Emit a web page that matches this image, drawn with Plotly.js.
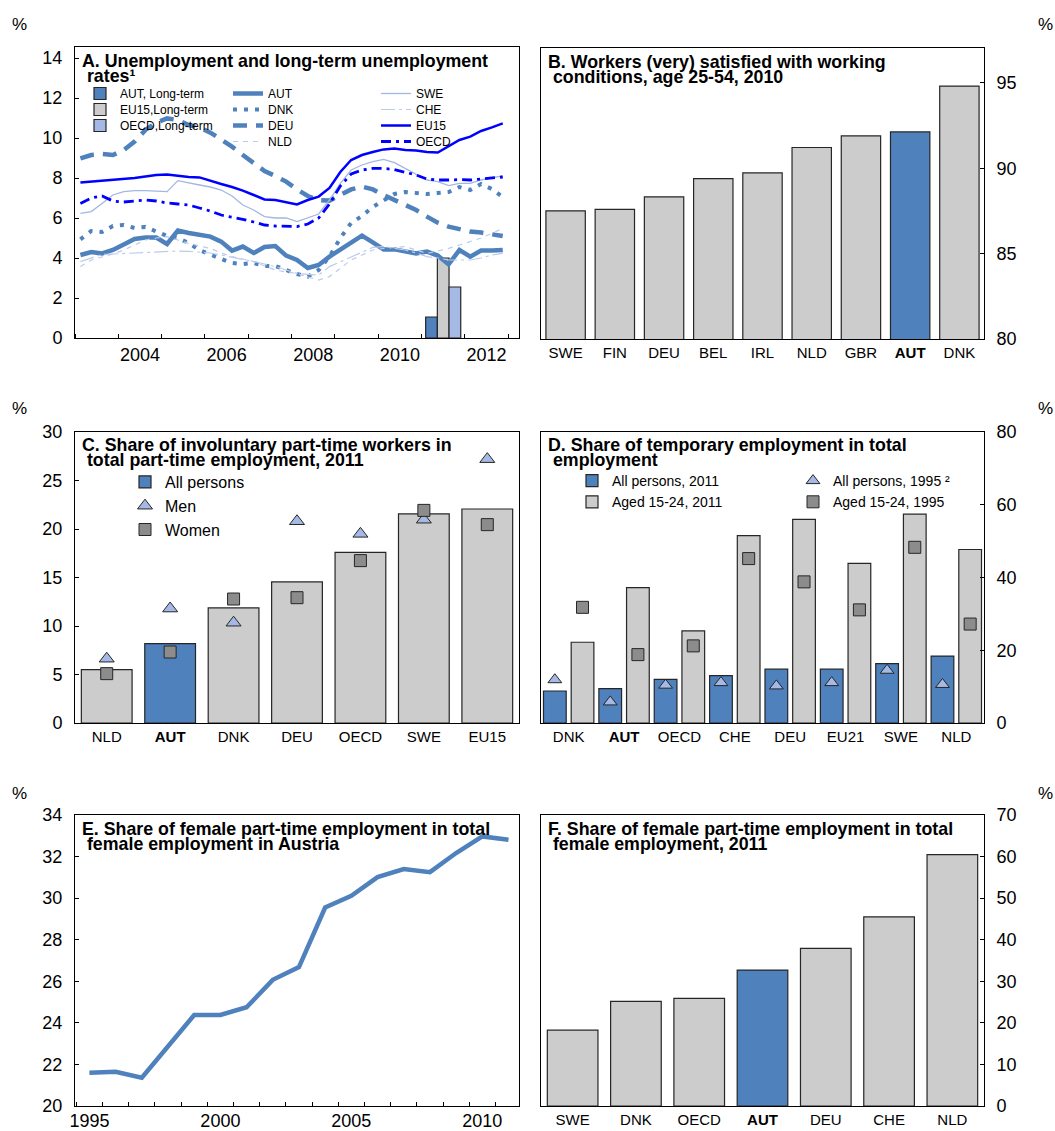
<!DOCTYPE html>
<html><head><meta charset="utf-8">
<script src="https://cdn.plot.ly/plotly-3.0.1.min.js"></script>
<style>html,body{margin:0;padding:0;background:#fff}#chart{width:1055px;height:1131px}</style>
</head><body><div id="chart"></div>
<script>
// ---------- Panel A: unemployment rates, quarterly 2003Q1-2012Q4 ----------
const aFirstYear = 2003, aLastYear = 2012;
const autU  = [4.15,4.3,4.23,4.4,4.68,4.95,5.03,5.02,4.7,5.37,5.25,5.18,5.07,4.82,4.37,4.57,4.25,4.55,4.6,4.12,3.9,3.5,3.65,4.07,4.43,4.78,5.12,4.78,4.43,4.43,4.35,4.23,4.32,4.12,3.68,4.4,4.07,4.37,4.37,4.4];
const dnkU  = [4.93,5.35,5.3,5.6,5.65,5.5,5.55,5.35,5.1,5.0,4.75,4.4,4.15,3.95,3.75,3.7,3.75,3.6,3.6,3.4,3.2,3.07,3.4,4.07,5.0,5.75,6.1,6.55,6.9,7.2,7.3,7.25,7.2,7.25,7.3,7.55,7.4,7.7,7.45,7.05];
const deuU  = [8.98,9.15,9.2,9.15,9.4,9.82,10.4,10.77,10.98,10.9,10.65,10.53,10.27,9.93,9.57,9.15,8.73,8.35,8.1,7.82,7.43,7.1,6.9,6.87,7.15,7.43,7.57,7.43,7.15,6.9,6.62,6.4,6.07,5.77,5.57,5.43,5.32,5.27,5.2,5.1];
const nldU  = [3.57,3.9,4.05,4.2,4.4,4.65,4.9,5.0,5.07,4.9,4.73,4.6,4.48,4.25,4.07,3.95,3.82,3.6,3.4,3.3,3.23,3.05,2.9,3.07,3.5,3.9,4.15,4.4,4.48,4.52,4.57,4.4,4.23,4.35,4.48,4.65,4.82,5.0,5.23,5.48];
const sweU  = [6.23,6.32,6.73,7.15,7.32,7.37,7.37,7.35,7.32,7.87,7.75,7.65,7.55,7.4,7.1,6.65,6.4,6.07,6.0,6.0,5.82,6.0,6.2,6.9,7.73,8.4,8.65,8.82,8.93,8.77,8.48,8.15,7.9,7.82,7.62,7.73,7.73,7.9,8.02,8.1];
const cheU  = [3.82,4.0,4.18,4.2,4.23,4.25,4.27,4.3,4.35,4.35,4.33,4.3,4.25,4.15,4.05,3.95,3.82,3.7,3.57,3.4,3.23,3.18,3.15,3.57,3.8,4.07,4.3,4.53,4.57,4.5,4.4,4.25,4.07,4.0,3.9,3.9,3.9,4.0,4.15,4.23];
const eu15U = [7.78,7.82,7.88,7.9,7.93,8.0,8.07,8.15,8.18,8.12,8.05,8.03,7.85,7.7,7.55,7.37,7.15,6.93,6.9,6.8,6.68,6.9,7.07,7.5,8.3,8.9,9.15,9.3,9.43,9.47,9.4,9.38,9.3,9.27,9.6,9.9,10.07,10.35,10.53,10.73];
const oecdU = [6.73,7.0,7.1,6.85,6.8,6.85,6.9,6.85,6.75,6.7,6.65,6.5,6.35,6.15,6.05,5.93,5.8,5.65,5.6,5.57,5.57,5.7,6.0,6.7,7.6,8.2,8.4,8.48,8.48,8.42,8.3,8.15,7.95,7.9,7.9,7.92,7.9,7.95,8.0,8.05];
const ltNames  = ['AUT, Long-term','EU15,Long-term','OECD,Long-term'];
const ltPeriod = [2011.23, 2011.5, 2011.77];
const ltValues = [1.05, 4.0, 2.55];
const aTickYears = [2004, 2006, 2008, 2010, 2012];

// ---------- Panel B ----------
const bCats = ['SWE','FIN','DEU','BEL','IRL','NLD','GBR','AUT','DNK'];
const bVals = [87.51, 87.59, 88.33, 89.40, 89.73, 91.22, 91.90, 92.13, 94.82];

// ---------- Panel C ----------
const cCats  = ['NLD','AUT','DNK','DEU','OECD','SWE','EU15'];
const cAll   = [5.5, 8.18, 11.86, 14.54, 17.6, 21.55, 22.06];
const cMen   = [6.63, 11.8, 10.34, 20.8, 19.5, 20.96, 27.2];
const cWomen = [5.09, 7.32, 12.78, 12.92, 16.74, 21.92, 20.45];

// ---------- Panel D ----------
const dCats      = ['DNK','AUT','OECD','CHE','DEU','EU21','SWE','NLD'];
const dAll2011   = [8.8, 9.45, 12.0, 13.0, 14.8, 14.8, 16.3, 18.4];
const dYouth2011 = [22.2, 37.2, 25.3, 51.5, 56.0, 43.9, 57.4, 47.7];
const dAll1995   = [11.9, 5.8, 10.4, 11.1, 10.2, 11.1, 14.5, 10.6];
const dYouth1995 = [31.8, 18.8, 21.2, 45.2, 38.8, 31.1, 48.3, 27.2];

// ---------- Panel E ----------
const eYears = [1995,1996,1997,1998,1999,2000,2001,2002,2003,2004,2005,2006,2007,2008,2009,2010,2011];
const eVals  = [21.6,21.65,21.36,22.86,24.38,24.38,24.75,26.07,26.68,29.55,30.11,31.01,31.4,31.25,32.17,32.97,32.81];
const eTickYears = [1995, 2000, 2005, 2010];

// ---------- Panel F ----------
const fCats = ['SWE','DNK','OECD','AUT','DEU','CHE','NLD'];
const fVals = [18.25, 25.16, 25.88, 32.7, 37.9, 45.5, 60.45];

// ---------- styling ----------
const FONT = 'Liberation Sans, Arial, Helvetica, sans-serif';
const BLUE = '#4F81BD', GREY = '#CCCCCC', LIGHT = '#A6B9E4', SQ = '#8C8C8C', EDGE = '#262626';
const W = 1055, H = 1131;
const px = v => v / W, py = v => 1 - v / H;
const hi = 'AUT';
const boldAut = c => c === hi ? '<b>' + c + '</b>' : c;
const barColors = cats => cats.map(c => c === hi ? BLUE : GREY);

const base = {showline: true, mirror: true, linecolor: '#000', linewidth: 1, showgrid: false,
  zeroline: false, fixedrange: true, tickcolor: '#000'};
const numFont = {family: FONT, size: 18, color: '#000'};
const catFont = {family: FONT, size: 15, color: '#000'};
const yAx = (anchor, domain, range, dtick, side) => Object.assign({}, base, {
  anchor: anchor, domain: domain, range: range, dtick: dtick, tick0: 0, side: side,
  ticks: 'inside', ticklen: 4, tickfont: numFont, ticklabelstandoff: 8});
const xCat = (anchor, domain, cats) => Object.assign({}, base, {
  anchor: anchor, domain: domain, type: 'category', categoryorder: 'array', categoryarray: cats,
  tickmode: 'array', tickvals: cats, ticktext: cats.map(boldAut), ticks: '', tickfont: catFont});

const domL = [px(75), px(519)], domR = [px(541), px(984)];
const row1 = [py(338), py(47)], row2 = [py(723), py(432)], row3 = [py(1106), py(815)];
const dIdx = dCats.map((c, i) => i);

const layout = {
  width: W, height: H, margin: {l: 0, r: 0, t: 0, b: 0},
  paper_bgcolor: '#fff', plot_bgcolor: '#fff', font: {family: FONT, color: '#000'},
  barmode: 'overlay', bargap: 0.2, hovermode: false, showlegend: true,
  xaxis: Object.assign({}, base, {anchor: 'y', domain: domL, range: [2003, 2013.25],
    tickmode: 'array', tickvals: aTickYears.map(y => y + 0.5), ticktext: aTickYears.map(String),
    ticks: '', tickfont: numFont,
    minor: {tickmode: 'linear', tick0: 2003, dtick: 1, ticks: 'inside', ticklen: 4, tickcolor: '#000', showgrid: false}}),
  yaxis: yAx('x', row1, [0, 14.55], 2, 'left'),
  xaxis2: xCat('y2', domR, bCats),
  yaxis2: yAx('x2', [py(339), py(48)], [80, 97.05], 5, 'right'),
  xaxis3: xCat('y3', domL, cCats),
  yaxis3: yAx('x3', row2, [0, 30], 5, 'left'),
  xaxis4: Object.assign({}, base, {anchor: 'y4', domain: domR, range: [-0.5, dCats.length - 0.5],
    tickmode: 'array', tickvals: dIdx, ticktext: dCats.map(boldAut), ticks: '', tickfont: catFont}),
  yaxis4: yAx('x4', row2, [0, 80], 20, 'right'),
  xaxis5: Object.assign({}, base, {anchor: 'y5', domain: domL, range: [1994.45, 2011.4],
    tickmode: 'array', tickvals: eTickYears, ticktext: eTickYears.map(String), ticks: '', tickfont: numFont,
    ticklabelstandoff: -2,
    minor: {tickmode: 'linear', tick0: 1994.5, dtick: 1, ticks: 'inside', ticklen: 4, tickcolor: '#000', showgrid: false}}),
  yaxis5: yAx('x5', row3, [20, 34], 2, 'left'),
  xaxis6: xCat('y6', domR, fCats),
  yaxis6: yAx('x6', row3, [0, 70], 10, 'right'),
  annotations: []
};

// legends: one key per box
let legendCount = 0;
function newLegend(xPx, topPx, size) {
  legendCount++;
  const key = legendCount === 1 ? 'legend' : 'legend' + legendCount;
  layout[key] = {x: px(xPx), y: py(topPx), xanchor: 'left', yanchor: 'top',
    bgcolor: 'rgba(0,0,0,0)', font: {family: FONT, size: size, color: '#000'}};
  return key;
}
// Panel A legend grid: columns (left px) and row centres
const aLegCols = [80, 228, 376], aLegRows = [93, 109, 125, 141];
const aLeg = (col, row) => newLegend(aLegCols[col], aLegRows[row] - 14, 12);

const quarterX = [];
for (let y = aFirstYear; y <= aLastYear; y++) for (let q = 1; q <= 4; q++) quarterX.push(y + (q - 0.5) / 4);

const traces = [];
// Panel A bars
const ltColors = [BLUE, GREY, LIGHT];
ltNames.forEach((n, i) => traces.push({
  type: 'bar', name: n, x: [ltPeriod[i]], y: [ltValues[i]], width: 0.27,
  marker: {color: ltColors[i], line: {color: EDGE, width: 1.2}},
  xaxis: 'x', yaxis: 'y', legend: aLeg(0, i)
}));
const lineSpecs = [
  ['AUT', autU, {color: BLUE, width: 4.5}, 1, 0],
  ['DNK', dnkU, {color: BLUE, width: 4, dash: '4px,7px'}, 1, 1],
  ['DEU', deuU, {color: BLUE, width: 4.5, dash: '14px,9px'}, 1, 2],
  ['NLD', nldU, {color: '#BCCBEB', width: 1.2, dash: '5px,5px'}, 1, 3],
  ['SWE', sweU, {color: '#A3B7E3', width: 1.3}, 2, 0],
  ['CHE', cheU, {color: '#BCCBEB', width: 1.2, dash: '14px,4px,3px,4px'}, 2, 1],
  ['EU15', eu15U, {color: '#0000FF', width: 2.5}, 2, 2],
  ['OECD', oecdU, {color: '#0000FF', width: 2.8, dash: '10px,5px,3px,5px'}, 2, 3]
];
lineSpecs.forEach(([n, v, line, col, row]) => traces.push({
  type: 'scatter', mode: 'lines', name: n, x: quarterX, y: v, line: line,
  xaxis: 'x', yaxis: 'y', legend: aLeg(col, row)
}));

// Panel B
traces.push({type: 'bar', x: bCats, y: bVals, showlegend: false,
  marker: {color: barColors(bCats), line: {color: EDGE, width: 1.2}}, xaxis: 'x2', yaxis: 'y2'});

// Panel C
const legC = newLegend(125, 465, 16);
const cOther = cCats.map((c, i) => c === hi ? null : i).filter(i => i !== null);
const cHi = cCats.indexOf(hi);
traces.push({type: 'bar', name: 'All persons', x: [cCats[cHi]], y: [cAll[cHi]],
  marker: {color: BLUE, line: {color: EDGE, width: 1.2}}, xaxis: 'x3', yaxis: 'y3', legend: legC});
traces.push({type: 'bar', name: 'All persons (others)', showlegend: false,
  x: cOther.map(i => cCats[i]), y: cOther.map(i => cAll[i]),
  marker: {color: GREY, line: {color: EDGE, width: 1.2}}, xaxis: 'x3', yaxis: 'y3'});
traces.push({type: 'scatter', mode: 'markers', name: 'Men', x: cCats, y: cMen,
  marker: {symbol: 'triangle-up', size: 13, color: LIGHT, line: {color: EDGE, width: 1}},
  xaxis: 'x3', yaxis: 'y3', legend: legC});
traces.push({type: 'scatter', mode: 'markers', name: 'Women', x: cCats, y: cWomen,
  marker: {symbol: 'square', size: 12, color: SQ, line: {color: EDGE, width: 1}},
  xaxis: 'x3', yaxis: 'y3', legend: legC});

// Panel D (numeric axis: category index, two bars per category)
const legD1 = newLegend(572, 465, 14), legD2 = newLegend(793, 465, 14);
const dLeft = dIdx.map(i => i - 0.25), dRight = dIdx.map(i => i + 0.25);
traces.push({type: 'bar', name: 'All persons, 2011', x: dLeft, y: dAll2011, width: 0.41,
  marker: {color: BLUE, line: {color: EDGE, width: 1.2}}, xaxis: 'x4', yaxis: 'y4', legend: legD1});
traces.push({type: 'bar', name: 'Aged 15-24, 2011', x: dRight, y: dYouth2011, width: 0.41,
  marker: {color: GREY, line: {color: EDGE, width: 1.2}}, xaxis: 'x4', yaxis: 'y4', legend: legD1});
traces.push({type: 'scatter', mode: 'markers', name: 'All persons, 1995 ²', x: dLeft, y: dAll1995,
  marker: {symbol: 'triangle-up', size: 12, color: LIGHT, line: {color: EDGE, width: 1}},
  xaxis: 'x4', yaxis: 'y4', legend: legD2});
traces.push({type: 'scatter', mode: 'markers', name: 'Aged 15-24, 1995', x: dRight, y: dYouth1995,
  marker: {symbol: 'square', size: 12, color: SQ, line: {color: EDGE, width: 1}},
  xaxis: 'x4', yaxis: 'y4', legend: legD2});

// Panel E
traces.push({type: 'scatter', mode: 'lines', x: eYears, y: eVals, showlegend: false,
  line: {color: BLUE, width: 4.5}, xaxis: 'x5', yaxis: 'y5'});

// Panel F
traces.push({type: 'bar', x: fCats, y: fVals, showlegend: false,
  marker: {color: barColors(fCats), line: {color: EDGE, width: 1.2}}, xaxis: 'x6', yaxis: 'y6'});

const titles = [
  [80, 61, 'A. Unemployment and long-term unemployment', 'rates¹'],
  [546, 62, 'B. Workers (very) satisfied with working', 'conditions, age 25-54, 2010'],
  [80, 445, 'C. Share of involuntary part-time workers in', 'total part-time employment, 2011'],
  [546, 445, 'D. Share of temporary employment in total', 'employment'],
  [80, 829, 'E. Share of female part-time employment in total', 'female employment in Austria'],
  [546, 829, 'F. Share of female part-time employment in total', 'female employment, 2011']
];
titles.forEach(([x, y, l1, l2]) => {
  layout.annotations.push({xref: 'paper', yref: 'paper', x: px(x), y: py(y), xanchor: 'left', yanchor: 'middle',
    showarrow: false, text: '<b>' + l1 + '</b>', font: {family: FONT, size: 17.8, color: '#000'}});
  layout.annotations.push({xref: 'paper', yref: 'paper', x: px(x), y: py(y + 15), xanchor: 'left', yanchor: 'middle',
    showarrow: false, text: '<b>\u00a0' + l2 + '</b>', font: {family: FONT, size: 17.8, color: '#000'}});
});
[[19, 24], [1045, 24], [19, 408], [1045, 408], [19, 793], [1045, 793]].forEach(([x, y]) => {
  layout.annotations.push({xref: 'paper', yref: 'paper', x: px(x), y: py(y), xanchor: 'center', yanchor: 'middle',
    showarrow: false, text: '%', font: {family: FONT, size: 17, color: '#000'}});
});

Plotly.newPlot('chart', traces, layout, {staticPlot: true, displayModeBar: false});
</script></body></html>
